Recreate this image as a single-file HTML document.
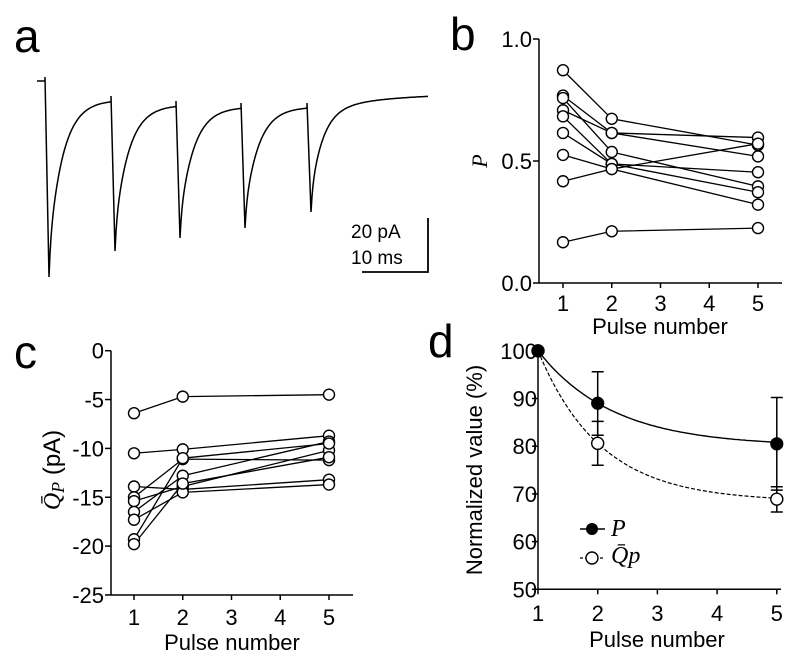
<!DOCTYPE html>
<html><head><meta charset="utf-8">
<style>
html,body{margin:0;padding:0;background:#fff;}
svg{display:block;font-family:"Liberation Sans",Arial,sans-serif;}
</style></head>
<body>
<svg id="fig" width="800" height="665" viewBox="0 0 800 665" xmlns="http://www.w3.org/2000/svg">
<text x="14" y="52" font-size="46">a</text>
<text x="450" y="50" font-size="46">b</text>
<text x="14" y="368" font-size="46">c</text>
<text x="428" y="357" font-size="46">d</text>
<g id="gA"></g>
<g id="gB"></g>
<g id="gC"></g>
<g id="gD"></g>
</svg>
<script>
// ---------- data ----------
const pulses = [1, 2, 5];
const bSeries = [
  [0.872, 0.673, 0.565],
  [0.768, 0.615, 0.596],
  [0.758, 0.537, 0.396],
  [0.708, 0.615, 0.519],
  [0.683, 0.488, 0.372],
  [0.615, 0.488, 0.454],
  [0.525, 0.467, 0.321],
  [0.417, 0.467, 0.571],
  [0.167, 0.212, 0.225]
];
const bTicks = ["0.0", "0.5", "1.0"];
const cSeries = [
  [-6.4, -4.7, -4.5],
  [-10.5, -10.1, -8.7],
  [-13.9, -14.2, -13.2],
  [-15.0, -11.1, -11.2],
  [-15.4, -13.9, -10.2],
  [-16.5, -12.8, -9.3],
  [-17.3, -14.5, -13.7],
  [-19.3, -11.0, -9.5],
  [-19.8, -13.6, -10.9]
];
const cTicks = [0, -5, -10, -15, -20, -25];
const dP = [100, 89, 80.5];
const dPerrUp = [0, 6.6, 9.7];
const dPerrDown = [0, 6.7, 9.7];
const dQ = [100, 80.6, 68.9];
const dQerrUp = [0, 4.6, 2.6];
const dQerrDown = [0, 4.6, 2.7];
const dTicks = [50, 60, 70, 80, 90, 100];
const xTicks = [1, 2, 3, 4, 5];
// trace: EPSC amplitudes (px) and recovery levels
const peakAmp = [196, 151, 133, 121, 105];
const recoverLevel = [100, 105, 107, 107, 93];

const NS = "http://www.w3.org/2000/svg";
function mk(parent, tag, attrs, name, text) {
  const e = document.createElementNS(NS, tag);
  for (const k in attrs) e.setAttribute(k, attrs[k]);
  
  
  if (text !== undefined) e.textContent = text;
  parent.appendChild(e);
  return e;
}

// ---------- panel a trace ----------
(function(){
  const g = document.getElementById('gA');
  const starts = [45, 111, 176, 241, 307];
  let lvl = 81;
  let d = "M37,81 L45,81";
  for (let i = 0; i < 5; i++) {
    const x0 = starts[i];
    const peakY = lvl + peakAmp[i];
    const endX = i < 4 ? starts[i+1] : 428;
    const target = recoverLevel[i];
    const tau = i < 4 ? 14 : 22;
    d += ` L${x0},${lvl-4} L${x0+4},${peakY}`;
    for (let x = x0 + 5; x <= endX; x += 1) {
      const t = x - (x0 + 4);
      let y;
      if (i < 4) {
        y = target + (peakY - target) * (0.15 * Math.exp(-t / 1.5) + 0.85 * Math.exp(-t / tau));
      } else {
        const fast = 0.15 * Math.exp(-t / 1.5) + 0.7 * Math.exp(-t / 12) + 0.15 * Math.exp(-t / 70);
        y = target + (peakY - target) * fast;
      }
      d += ` L${x},${y.toFixed(1)}`;
    }
    lvl = target;
  }
  mk(g, 'path', {d: d, fill: 'none', stroke: '#000', 'stroke-width': 1.5}, 'current-trace');
  mk(g, 'path', {d: 'M428,218 L428,272 L362,272', fill: 'none', stroke: '#000', 'stroke-width': 1.8}, 'scale-bar');
  mk(g, 'text', {x: 351, y: 238, 'font-size': 19}, 'scale-bar-current-label', '20 pA');
  mk(g, 'text', {x: 351, y: 264, 'font-size': 19}, 'scale-bar-time-label', '10 ms');
})();

function axesXY(g, ax, y0, yTop, xEnd, xs, xTickY, prefix) {
  mk(g, 'line', {x1: ax, y1: yTop, x2: ax, y2: y0, stroke: '#000', 'stroke-width': 1.5}, prefix + '-y-axis');
  mk(g, 'line', {x1: ax, y1: y0, x2: xEnd, y2: y0, stroke: '#000', 'stroke-width': 1.5}, prefix + '-x-axis');
  xTicks.forEach(t => {
    const x = xs(t);
    mk(g, 'line', {x1: x, y1: y0, x2: x, y2: y0 + 5, stroke: '#000', 'stroke-width': 1.5}, prefix + '-x-tick');
    mk(g, 'text', {x: x, y: xTickY, 'font-size': 22, 'text-anchor': 'middle'}, prefix + '-x-tick-label', String(t));
  });
}

// ---------- panel b ----------
(function(){
  const g = document.getElementById('gB');
  const xs = p => 563 + (p - 1) * 48.75;
  const ys = v => 283 - v * 244;
  axesXY(g, 539, 283, 39, 782, xs, 311, 'b');
  bTicks.forEach(t => {
    const y = ys(parseFloat(t));
    mk(g, 'line', {x1: 533, y1: y, x2: 539, y2: y, stroke: '#000', 'stroke-width': 1.5}, 'b-y-tick');
    mk(g, 'text', {x: 532, y: y + 8, 'font-size': 22, 'text-anchor': 'end'}, 'b-y-tick-label', t);
  });
  bSeries.forEach(s => {
    mk(g, 'polyline', {points: s.map((v, i) => xs(pulses[i]) + ',' + ys(v)).join(' '), fill: 'none', stroke: '#000', 'stroke-width': 1.3}, 'b-series-line');
  });
  bSeries.forEach(s => s.forEach((v, i) => {
    mk(g, 'circle', {cx: xs(pulses[i]), cy: ys(v), r: 5.5, fill: '#fff', stroke: '#000', 'stroke-width': 1.4}, 'b-point');
  }));
  mk(g, 'text', {x: 660, y: 334, 'font-size': 22, 'text-anchor': 'middle'}, 'b-x-axis-title', 'Pulse number');
  mk(g, 'text', {x: 0, y: 0, 'font-size': 22, 'font-style': 'italic', 'font-family': '"Liberation Serif",serif', transform: 'translate(487,161) rotate(-90)', 'text-anchor': 'middle'}, 'b-y-axis-title', 'P');
})();

// ---------- panel c ----------
(function(){
  const g = document.getElementById('gC');
  const xs = p => 134 + (p - 1) * 48.75;
  const ys = v => 350.7 - v * 9.77;
  axesXY(g, 111, 595, 350.7, 353, xs, 625, 'c');
  cTicks.forEach(t => {
    const y = ys(t);
    mk(g, 'line', {x1: 105, y1: y, x2: 111, y2: y, stroke: '#000', 'stroke-width': 1.5}, 'c-y-tick');
    mk(g, 'text', {x: 104, y: y + 8, 'font-size': 22, 'text-anchor': 'end'}, 'c-y-tick-label', String(t));
  });
  cSeries.forEach(s => {
    mk(g, 'polyline', {points: s.map((v, i) => xs(pulses[i]) + ',' + ys(v)).join(' '), fill: 'none', stroke: '#000', 'stroke-width': 1.3}, 'c-series-line');
  });
  cSeries.forEach(s => s.forEach((v, i) => {
    mk(g, 'circle', {cx: xs(pulses[i]), cy: ys(v), r: 5.5, fill: '#fff', stroke: '#000', 'stroke-width': 1.4}, 'c-point');
  }));
  mk(g, 'text', {x: 232, y: 650, 'font-size': 22, 'text-anchor': 'middle'}, 'c-x-axis-title', 'Pulse number');
  const t = mk(g, 'text', {x: 0, y: 0, 'font-size': 24, transform: 'translate(60,470) rotate(-90)', 'text-anchor': 'middle'}, 'c-y-axis-title');
  t.innerHTML = '<tspan font-family="Liberation Serif,serif" font-style="italic">Q̄</tspan><tspan font-family="Liberation Serif,serif" font-style="italic" font-size="18" dy="4">P</tspan><tspan dy="-4"> (pA)</tspan>';
})();

// ---------- panel d ----------
(function(){
  const g = document.getElementById('gD');
  const xs = p => 538 + (p - 1) * 59.7;
  const ys = v => 589.3 - (v - 50) * 4.77;
  axesXY(g, 538, 589.3, 350.7, 781, xs, 621, 'd');
  dTicks.forEach(t => {
    const y = ys(t);
    mk(g, 'line', {x1: 532, y1: y, x2: 538, y2: y, stroke: '#000', 'stroke-width': 1.5}, 'd-y-tick');
    mk(g, 'text', {x: 537, y: y + 8, 'font-size': 22, 'text-anchor': 'end'}, 'd-y-tick-label', String(t));
  });
  function fitCurve(vals) {
    const plateau = vals[2] - 0.5;
    const k = -Math.log((vals[1] - plateau) / (100 - plateau));
    let pts = [];
    for (let p = 1; p <= 5.001; p += 0.05) pts.push(xs(p).toFixed(1) + ',' + ys(plateau + (100 - plateau) * Math.exp(-k * (p - 1))).toFixed(1));
    return pts.join(' ');
  }
  mk(g, 'polyline', {points: fitCurve(dP), fill: 'none', stroke: '#000', 'stroke-width': 1.4}, 'd-p-fit-curve');
  mk(g, 'polyline', {points: fitCurve(dQ), fill: 'none', stroke: '#000', 'stroke-width': 1.2, 'stroke-dasharray': '4,2'}, 'd-q-fit-curve');
  function errBars(vals, up, down, name) {
    vals.forEach((v, i) => {
      if (up[i] === 0) return;
      const x = xs(pulses[i]);
      mk(g, 'path', {d: `M${x},${ys(v + up[i])} L${x},${ys(v - down[i])} M${x-6},${ys(v + up[i])} L${x+6},${ys(v + up[i])} M${x-6},${ys(v - down[i])} L${x+6},${ys(v - down[i])}`, stroke: '#000', 'stroke-width': 1.5, fill: 'none'}, name);
    });
  }
  errBars(dP, dPerrUp, dPerrDown, 'd-p-error-bar');
  errBars(dQ, dQerrUp, dQerrDown, 'd-q-error-bar');
  dQ.forEach((v, i) => mk(g, 'circle', {cx: xs(pulses[i]), cy: ys(v), r: 6, fill: '#fff', stroke: '#000', 'stroke-width': 1.4}, 'd-q-point'));
  dP.forEach((v, i) => mk(g, 'circle', {cx: xs(pulses[i]), cy: ys(v), r: 6, fill: '#000', stroke: '#000', 'stroke-width': 1.2}, 'd-p-point'));
  mk(g, 'line', {x1: 580, y1: 529, x2: 605, y2: 529, stroke: '#000', 'stroke-width': 1.4}, 'legend-p-line');
  mk(g, 'circle', {cx: 592, cy: 529, r: 6, fill: '#000'}, 'legend-p-marker');
  mk(g, 'text', {x: 611, y: 536, 'font-size': 24, 'font-style': 'italic', 'font-family': '"Liberation Serif",serif'}, 'legend-p-label', 'P');
  mk(g, 'line', {x1: 580, y1: 558, x2: 605, y2: 558, stroke: '#000', 'stroke-width': 1.2, 'stroke-dasharray': '3,2'}, 'legend-q-line');
  mk(g, 'circle', {cx: 592, cy: 558, r: 6, fill: '#fff', stroke: '#000', 'stroke-width': 1.4}, 'legend-q-marker');
  const lq = mk(g, 'text', {x: 611, y: 563, 'font-size': 24, 'font-style': 'italic', 'font-family': '"Liberation Serif",serif'}, 'legend-q-label');
  lq.innerHTML = 'Q̄<tspan>p</tspan>';
  mk(g, 'text', {x: 657, y: 647, 'font-size': 22, 'text-anchor': 'middle'}, 'd-x-axis-title', 'Pulse number');
  mk(g, 'text', {x: 0, y: 0, 'font-size': 22, transform: 'translate(482,470) rotate(-90)', 'text-anchor': 'middle'}, 'd-y-axis-title', 'Normalized value (%)');
})();
</script>
</body></html>
